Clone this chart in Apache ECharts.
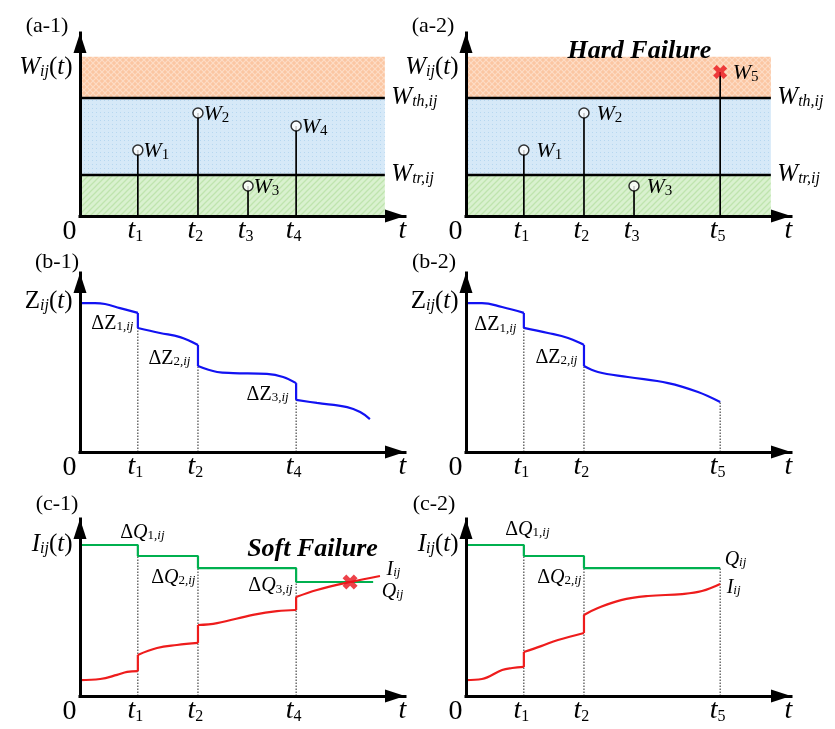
<!DOCTYPE html>
<html>
<head>
<meta charset="utf-8">
<script src="https://cdn.jsdelivr.net/npm/echarts@6/dist/echarts.min.js"></script>
<style>
html, body { margin: 0; padding: 0; background: #fff; }
#main { width: 835px; height: 729px; }
</style>
</head>
<body>
<div id="main"></div>
<script>
// time axis runs 0..10, value axes 0..10 in every panel
const T1 = 1.78, T2 = 3.63, T3 = 5.17, T4 = 6.65, T5 = 7.82

// (a) shock loads
const shockTimesA1 = [T1, T2, T3, T4]
const shockSizesA1 = [3.6, 5.63, 1.64, 4.92]
const shockIdsA1 = ['1', '2', '3', '4']
const shockTimesA2 = [T1, T2, T3, T5]
const shockSizesA2 = [3.6, 5.63, 1.64, 7.87]
const shockIdsA2 = ['1', '2', '3', '5']
const zoneBounds = [0, 2.24, 6.45, 8.7] // 0, Wtr, Wth, top of chart area
const zoneEnd = 9.38

// (b) degradation Z(t), one array per segment between shocks
const degradeB1 = [
  [[0, 8.32], [0.46, 8.32], [0.77, 8.27], [1.23, 8.04], [T1, 7.77]],
  [[T1, 6.93], [2.46, 6.65], [3.08, 6.42], [T2, 5.98]],
  [[T2, 4.8], [4.22, 4.47], [4.71, 4.41], [5.75, 4.36], [6.25, 4.19], [T4, 3.85]],
  [[T4, 2.91], [7.29, 2.74], [8.22, 2.51], [8.62, 2.23], [8.92, 1.84]]
]
const degradeB2 = [
  [[0, 8.32], [0.49, 8.32], [1.11, 8.1], [T1, 7.77]],
  [[T1, 6.93], [2.52, 6.65], [3.14, 6.37], [T2, 5.98]],
  [[T2, 4.8], [4.06, 4.47], [4.98, 4.19], [6.22, 3.85], [7.14, 3.35], [T5, 2.79]]
]
const dottedB1 = [T1, T2, T4]
const dottedB2 = [T1, T2, T5]

// (c) threshold Q (step) and index I(t)
const thresholdC1 = [[0, 8.53], [T1, 7.91], [T2, 7.23], [T4, 6.44], [9.02, 6.44]]
const thresholdC2 = [[0, 8.53], [T1, 7.91], [T2, 7.23], [T5, 7.23]]
const indexC1 = [
  [[0, 0.9], [0.62, 0.96], [1.14, 1.19], [1.45, 1.36], [T1, 1.41]],
  [[T1, 2.32], [2.37, 2.71], [2.98, 2.88], [T2, 3.0]],
  [[T2, 4.01], [4.22, 4.12], [5.32, 4.58], [6.06, 4.8], [T4, 4.86]],
  [[T4, 5.59], [7.29, 5.99], [8.31, 6.44], [9.23, 6.78]]
]
const indexC2 = [
  [[0, 0.9], [0.49, 0.96], [1.11, 1.47], [1.42, 1.58], [T1, 1.64]],
  [[T1, 2.49], [2.31, 2.82], [2.83, 3.16], [T2, 3.56]],
  [[T2, 4.58], [4.06, 4.97], [4.77, 5.42], [5.6, 5.65], [6.65, 5.76], [7.26, 5.93], [T5, 6.33]]
]
const softFailure = [8.31, 6.44]
const ticksCol1 = [[T1, '1'], [T2, '2'], [T4, '4']]
const ticksCol2 = [[T1, '1'], [T2, '2'], [T5, '5']]

const F = 'Liberation Serif'
const BLUE = '#1212f2'
const GREEN = '#00b04f'
const RED = '#ee1c1c'
const CROSS_RED = '#e8131b'
const CROSS = 'path://M0,3 L3,0 L6,3 L9,0 L12,3 L9,6 L12,9 L9,12 L6,9 L3,12 L0,9 L3,6 Z'

function st (size, italic, bold) {
  return { fontFamily: F, fontSize: size, lineHeight: size, fontStyle: italic ? 'italic' : 'normal',
    fontWeight: bold ? 'bold' : 'normal', verticalAlign: 'bottom', color: '#000' }
}
const rich = {
  iL: st(25, true), rL: st(25), sL: st(16, true),
  iM: st(22, true), sM: st(15),
  iT: st(28, true), sT: st(16), r0: st(28),
  rD: st(20), iD: st(20, true), sD: st(13), siD: st(13, true),
  bf: st(26, true, true)
}

function pattern (w, h, base, draw) {
  const c = document.createElement('canvas')
  c.width = w
  c.height = h
  const ctx = c.getContext('2d')
  ctx.fillStyle = base
  ctx.fillRect(0, 0, w, h)
  draw(ctx)
  return { image: c, repeat: 'repeat' }
}
const orangeFill = pattern(6, 6, '#fbc6a2', (ctx) => {
  ctx.strokeStyle = '#fddcc5'
  ctx.lineWidth = 1.2
  ctx.beginPath()
  ctx.moveTo(0, 0); ctx.lineTo(6, 6)
  ctx.moveTo(6, 0); ctx.lineTo(0, 6)
  ctx.stroke()
})
const blueFill = pattern(4, 4, '#d6e9f8', (ctx) => {
  ctx.fillStyle = '#b6d7f0'
  ctx.fillRect(0, 0, 1, 1)
})
const greenFill = pattern(6, 6, '#d9f1cf', (ctx) => {
  ctx.strokeStyle = '#bfe4ae'
  ctx.lineWidth = 1.3
  ctx.beginPath()
  ctx.moveTo(0, 6); ctx.lineTo(6, 0)
  ctx.moveTo(-1, 1); ctx.lineTo(1, -1)
  ctx.moveTo(5, 7); ctx.lineTo(7, 5)
  ctx.stroke()
})

const grids = [
  { left: 80, top: 33, width: 325, height: 183 },
  { left: 466, top: 33, width: 325, height: 183 },
  { left: 80, top: 273, width: 325, height: 179 },
  { left: 466, top: 273, width: 325, height: 179 },
  { left: 80, top: 519, width: 325, height: 177 },
  { left: 466, top: 519, width: 325, height: 177 }
]
const axisLine = {
  show: true, onZero: false, symbol: ['none', 'triangle'], symbolSize: [13, 20], symbolOffset: [0, -10],
  lineStyle: { color: '#000', width: 3, cap: 'square' }
}
const axisBase = (g) => ({
  gridIndex: g, type: 'value', min: 0, max: 10, z: 10, axisLine,
  axisTick: { show: false }, axisLabel: { show: false }, splitLine: { show: false }
})

const series = []
const line = (g, data, color, width, extra) => {
  series.push(Object.assign({
    type: 'line', xAxisIndex: g, yAxisIndex: g, data, symbol: 'none', silent: true,
    lineStyle: { color, width }, z: 3
  }, extra || {}))
}
const labels = (g, list) => {
  series.push({
    type: 'scatter', xAxisIndex: g, yAxisIndex: g, symbolSize: 1, clip: false, silent: true, z: 20,
    itemStyle: { color: 'rgba(0,0,0,0)' },
    data: list.map((l) => ({
      value: l.at,
      label: {
        show: true, formatter: l.t, position: [l.dx, l.dy], align: l.align || 'center', verticalAlign: 'middle',
        color: '#000', opacity: 1, rich
      }
    }))
  })
}
const axisTexts = (g, ticks, yText, yAt) => {
  const list = [
    { at: [0, yAt], t: yText, dx: -7, dy: 0, align: 'right' },
    { at: [0, 0], t: '{r0|0}', dx: -10, dy: 16 },
    { at: [10, 0], t: '{iT|t}', dx: -2, dy: 15 }
  ]
  ticks.forEach(([x, k]) => list.push({ at: [x, 0], t: '{iT|t}{sT|' + k + '}', dx: -2, dy: 15 }))
  return list
}

// ---- (a) panels
function shockPanel (g, times, sizes, ids, failIdx, wdx, ticks) {
  series.push({
    type: 'line', xAxisIndex: g, yAxisIndex: g, data: [[0, 0]], symbol: 'none', silent: true, z: 1,
    markArea: {
      silent: true,
      data: [
        [{ coord: [0, zoneBounds[0]], itemStyle: { color: greenFill } }, { coord: [zoneEnd, zoneBounds[1]] }],
        [{ coord: [0, zoneBounds[1]], itemStyle: { color: blueFill } }, { coord: [zoneEnd, zoneBounds[2]] }],
        [{ coord: [0, zoneBounds[2]], itemStyle: { color: orangeFill } }, { coord: [zoneEnd, zoneBounds[3]] }]
      ]
    }
  })
  line(g, [[0, zoneBounds[1]], [zoneEnd, zoneBounds[1]]], '#000', 2.5)
  line(g, [[0, zoneBounds[2]], [zoneEnd, zoneBounds[2]]], '#000', 2.5)
  times.forEach((t, i) => line(g, [[t, 0], [t, sizes[i]]], '#000', 1.7, { z: 4 }))
  series.push({
    type: 'scatter', xAxisIndex: g, yAxisIndex: g, silent: true, z: 5,
    data: times.map((t, i) => i === failIdx
      ? { value: [t, sizes[i]], symbol: CROSS, symbolSize: 14, itemStyle: { color: CROSS_RED } }
      : { value: [t, sizes[i]], symbol: 'circle', symbolSize: 10, itemStyle: { color: '#fff', borderColor: '#000', borderWidth: 1.5 } })
  })
  const list = axisTexts(g, ticks, '{iL|W}{sL|ij}{rL|(}{iL|t}{rL|)}', 8.09)
  list.push({ at: [zoneEnd, zoneBounds[2]], t: '{iL|W}{sL|th,ij}', dx: 7, dy: 0, align: 'left' })
  list.push({ at: [zoneEnd, zoneBounds[1]], t: '{iL|W}{sL|tr,ij}', dx: 7, dy: 0, align: 'left' })
  times.forEach((t, i) => list.push({ at: [t, sizes[i]], t: '{iM|W}{sM|' + ids[i] + '}', dx: wdx, dy: 2, align: 'left' }))
  if (failIdx >= 0) list.push({ at: [5.35, 8.96], t: '{bf|Hard Failure}', dx: 0, dy: 0 })
  labels(g, list)
}
shockPanel(0, shockTimesA1, shockSizesA1, shockIdsA1, -1, 6,
  shockTimesA1.map((t, i) => [t, shockIdsA1[i]]))
shockPanel(1, shockTimesA2, shockSizesA2, shockIdsA2, 3, 13,
  shockTimesA2.map((t, i) => [t, shockIdsA2[i]]))

// ---- segmented curves with vertical jumps
function jumpCurve (g, segs, color) {
  segs.forEach((seg, i) => {
    line(g, seg, color, 2.2, { smooth: 0.4 })
    if (i > 0) {
      const prev = segs[i - 1]
      line(g, [prev[prev.length - 1], seg[0]], color, 2.2)
    }
  })
}
function dotted (g, x, y) {
  line(g, [[x, 0], [x, y]], '#222', 1, { z: 2, lineStyle: { color: '#222', width: 1, type: [1.5, 1.5] } })
}
const lowestAt = (segs, x) => Math.min(...segs.flat().filter((p) => p[0] === x).map((p) => p[1]))

// ---- (b) panels
jumpCurve(2, degradeB1, BLUE)
dottedB1.forEach((x) => dotted(2, x, lowestAt(degradeB1, x)))
labels(2, axisTexts(2, ticksCol1, '{rL|Z}{sL|ij}{rL|(}{iL|t}{rL|)}', 8.38).concat([
  { at: [T1, 7.15], t: '{rD|ΔZ}{sD|1}{siD|,ij}', dx: -4, dy: 0, align: 'right' },
  { at: [T2, 5.2], t: '{rD|ΔZ}{sD|2}{siD|,ij}', dx: -7, dy: 0, align: 'right' },
  { at: [T4, 3.18], t: '{rD|ΔZ}{sD|3}{siD|,ij}', dx: -7, dy: 0, align: 'right' }
]))
jumpCurve(3, degradeB2, BLUE)
dottedB2.forEach((x) => dotted(3, x, lowestAt(degradeB2, x)))
labels(3, axisTexts(3, ticksCol2, '{rL|Z}{sL|ij}{rL|(}{iL|t}{rL|)}', 8.38).concat([
  { at: [T1, 7.09], t: '{rD|ΔZ}{sD|1}{siD|,ij}', dx: -7, dy: 0, align: 'right' },
  { at: [T2, 5.25], t: '{rD|ΔZ}{sD|2}{siD|,ij}', dx: -6, dy: 0, align: 'right' }
]))

// ---- (c) panels
const levelAt = (steps, x) => {
  const p = steps.find((s) => s[0] === x)
  return p ? p[1] : steps[steps.length - 1][1]
}
line(4, thresholdC1, GREEN, 2.2, { step: 'end' })
jumpCurve(4, indexC1, RED)
ticksCol1.forEach(([x]) => dotted(4, x, levelAt(thresholdC1, x)))
series.push({
  type: 'scatter', xAxisIndex: 4, yAxisIndex: 4, silent: true, z: 6,
  data: [{ value: softFailure, symbol: CROSS, symbolSize: 15, itemStyle: { color: CROSS_RED } }]
})
const lastC1 = indexC1[indexC1.length - 1]
labels(4, axisTexts(4, ticksCol1, '{iL|I}{sL|ij}{rL|(}{iL|t}{rL|)}', 8.53).concat([
  { at: [T1, 9.21], t: '{rD|Δ}{iD|Q}{sD|1}{siD|,ij}', dx: 5, dy: 0 },
  { at: [T2, 6.67], t: '{rD|Δ}{iD|Q}{sD|2}{siD|,ij}', dx: -2, dy: 0, align: 'right' },
  { at: [T4, 6.21], t: '{rD|Δ}{iD|Q}{sD|3}{siD|,ij}', dx: -3, dy: 0, align: 'right' },
  { at: [7.17, 8.25], t: '{bf|Soft Failure}', dx: 0, dy: 0 },
  { at: lastC1[lastC1.length - 1], t: '{iD|I}{siD|ij}', dx: 7, dy: -6, align: 'left' },
  { at: thresholdC1[thresholdC1.length - 1], t: '{iD|Q}{siD|ij}', dx: 9, dy: 10, align: 'left' }
]))

line(5, thresholdC2, GREEN, 2.2, { step: 'end' })
jumpCurve(5, indexC2, RED)
ticksCol2.forEach(([x]) => dotted(5, x, levelAt(thresholdC2, x)))
const lastC2 = indexC2[indexC2.length - 1]
labels(5, axisTexts(5, ticksCol2, '{iL|I}{sL|ij}{rL|(}{iL|t}{rL|)}', 8.53).concat([
  { at: [T1, 9.38], t: '{rD|Δ}{iD|Q}{sD|1}{siD|,ij}', dx: 4, dy: 0 },
  { at: [T2, 6.67], t: '{rD|Δ}{iD|Q}{sD|2}{siD|,ij}', dx: -2, dy: 0, align: 'right' },
  { at: thresholdC2[thresholdC2.length - 1], t: '{iD|Q}{siD|ij}', dx: 5, dy: -8, align: 'left' },
  { at: lastC2[lastC2.length - 1], t: '{iD|I}{siD|ij}', dx: 7, dy: 4, align: 'left' }
]))

const titles = [['(a-1)', 47, 26], ['(a-2)', 433, 26], ['(b-1)', 57, 262], ['(b-2)', 434, 262], ['(c-1)', 57, 504], ['(c-2)', 434, 504]]

const chart = echarts.init(document.getElementById('main'))
chart.setOption({
  animation: false,
  grid: grids,
  xAxis: grids.map((_, g) => axisBase(g)),
  yAxis: grids.map((_, g) => axisBase(g)),
  graphic: titles.map(([text, x, y]) => ({
    type: 'text', x, y, silent: true,
    style: { text, font: '22px "Liberation Serif"', fill: '#000', align: 'center', verticalAlign: 'middle' }
  })),
  series
})
</script>
</body>
</html>
